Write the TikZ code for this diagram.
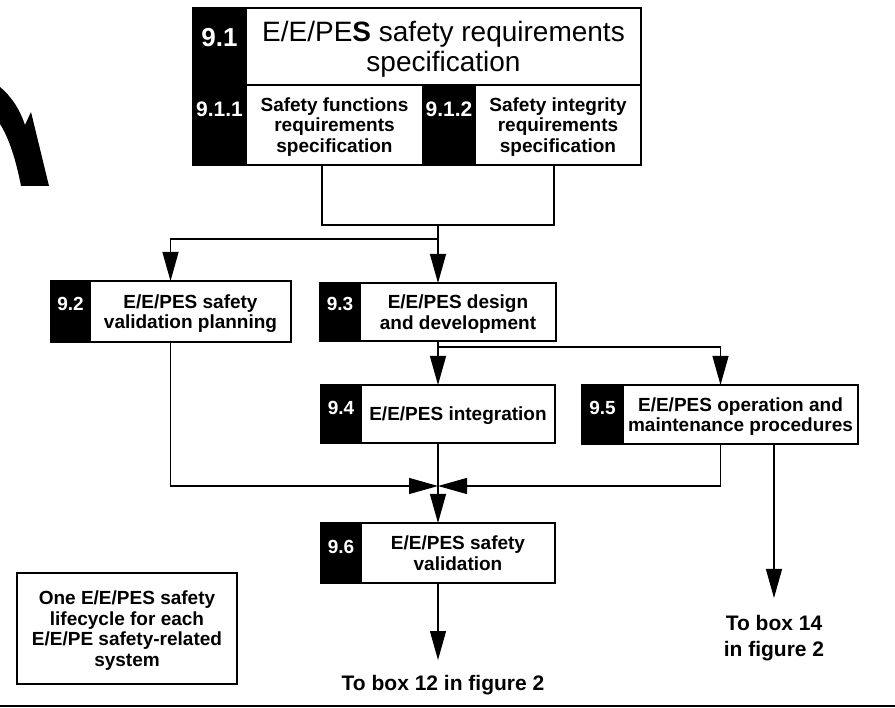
\documentclass[tikz,border=0pt]{standalone}
\usepackage{fontspec}
\setmainfont{Liberation Sans}
\usetikzlibrary{positioning,arrows.meta}

\tikzset{
  link/.style={black, line width=1.2pt},
  arr/.style={link, -{Triangle[length=29pt,width=16pt]}},
  textbox/.style={draw=black, line width=1.2pt, fill=white, inner sep=3pt, outer sep=0pt,
    align=center, text depth=0pt, font=\bfseries\fontsize{19}{20.5}\selectfont},
  numbox/.style={draw=black, line width=1.2pt, fill=black, inner sep=0pt, outer sep=0pt},
  numtext/.style={text=white, inner sep=0pt, anchor=north, font=\bfseries\fontsize{19}{20}\selectfont},
  outtext/.style={align=center, inner sep=0pt, anchor=north, font=\bfseries\fontsize{21}{26}\selectfont}
}

\begin{document}
\begin{tikzpicture}[x=1pt, y=-1pt]
\useasboundingbox (0,0) rectangle (895,708);
% tail of the big curved arrow on the left
\fill[black] (0,87) .. controls (12,97) and (20,110) .. (25,125) -- (31,112) -- (49,186)
  -- (21,186) .. controls (16,160) and (9,138) .. (0,124) -- cycle;

% 9.1 block
\node[textbox, minimum width=395pt, minimum height=77pt, text depth=-4pt, font=\fontsize{28}{30}\selectfont]
  (t91) at (443.5,46.5) {E/E/PE\textbf{S} safety requirements\\specification};
\node[numbox, minimum width=53pt, minimum height=77pt, left=0pt of t91,
  label={[numtext, yshift=-20pt, font=\bfseries\fontsize{26}{26}\selectfont]north:9.1}] (n91) {};
\node[textbox, minimum width=177pt, minimum height=80pt, text depth=-5pt] (t911) at (334.5,125)
  {Safety functions\\requirements\\specification};
\node[numbox, minimum width=53pt, minimum height=80pt, left=0pt of t911,
  label={[numtext, yshift=-17pt, font=\bfseries\fontsize{21}{21}\selectfont]north:9.1.1}] (n911) {};
\node[textbox, minimum width=166pt, minimum height=80pt, text depth=-5pt] (t912) at (558,125)
  {Safety integrity\\requirements\\specification};
\node[numbox, minimum width=52pt, minimum height=80pt, left=0pt of t912,
  label={[numtext, yshift=-17pt, font=\bfseries\fontsize{21}{21}\selectfont]north:9.1.2}] (n912) {};

% stages 9.2 - 9.6
\node[textbox, minimum width=201pt, minimum height=61pt] (s92) at (190.5,311.5)
  {E/E/PES safety\\validation planning};
\node[numbox, minimum width=39pt, minimum height=61pt, left=0pt of s92,
  label={[numtext, yshift=-16pt]north:9.2}] (n92) {};
\node[textbox, minimum width=196pt, minimum height=58pt] (s93) at (458,312)
  {E/E/PES design\\and development};
\node[numbox, minimum width=40pt, minimum height=58pt, left=0pt of s93,
  label={[numtext, yshift=-14pt]north:9.3}] (n93) {};
\node[textbox, minimum width=194pt, minimum height=58pt] (s94) at (458,414)
  {E/E/PES integration};
\node[numbox, minimum width=40pt, minimum height=58pt, left=0pt of s94,
  label={[numtext, yshift=-16pt]north:9.4}] (n94) {};
\node[textbox, minimum width=235pt, minimum height=59pt] (s95) at (740.5,414.5)
  {E/E/PES operation and\\maintenance procedures};
\node[numbox, minimum width=41pt, minimum height=59pt, left=0pt of s95,
  label={[numtext, yshift=-16pt]north:9.5}] (n95) {};
\node[textbox, minimum width=194pt, minimum height=60pt] (s96) at (458,553)
  {E/E/PES safety\\validation};
\node[numbox, minimum width=40pt, minimum height=60pt, left=0pt of s96,
  label={[numtext, yshift=-17pt]north:9.6}] (n96) {};

% note
\node[textbox, minimum width=220pt, minimum height=111pt] (note) at (127,628.5)
  {One E/E/PES safety\\lifecycle for each\\E/E/PE safety-related\\system};

% where the lines meet
\coordinate (jt) at (438,225);
\coordinate (js) at (438,239);
\coordinate (jm) at (438,486);

\draw[link] ([xshift=-12.5pt]t911.south) |- (jt) -| ([xshift=-4pt]t912.south);
\draw[link] (jt) -- (js);
\draw[arr] (js) -- ([xshift=-20pt]s93.north);
\draw[arr] (js) -| ([xshift=-20pt]s92.north);
\draw[arr] ([xshift=-20pt]s93.south) -- ([xshift=-20pt]s94.north);
\draw[arr] ([xshift=-20pt, yshift=-6pt]s93.south) -| ([xshift=-20pt]s95.north);
\draw[arr] ([xshift=-20pt]s92.south) |- (jm);
\draw[arr] ([xshift=-20pt]s95.south) |- (jm);
\draw[arr] ([xshift=-20pt]s94.south) -- ([xshift=-20pt]s96.north);

% exits
\node[outtext] (o14) at (774,615) {To box 14\\in figure 2};
\node[outtext] (o12) at (443,675) {To box 12 in figure 2};
\draw[arr, shorten >=17pt] ([xshift=33.5pt]s95.south) -- ([xshift=33.5pt]s95.south |- o14.north);
\draw[arr, shorten >=15pt] ([xshift=-20pt]s96.south) -- ([xshift=-20pt]s96.south |- o12.north);

% rule at the bottom
\draw[line width=2pt] (0,706) -- (895,706);
\end{tikzpicture}
\end{document}
